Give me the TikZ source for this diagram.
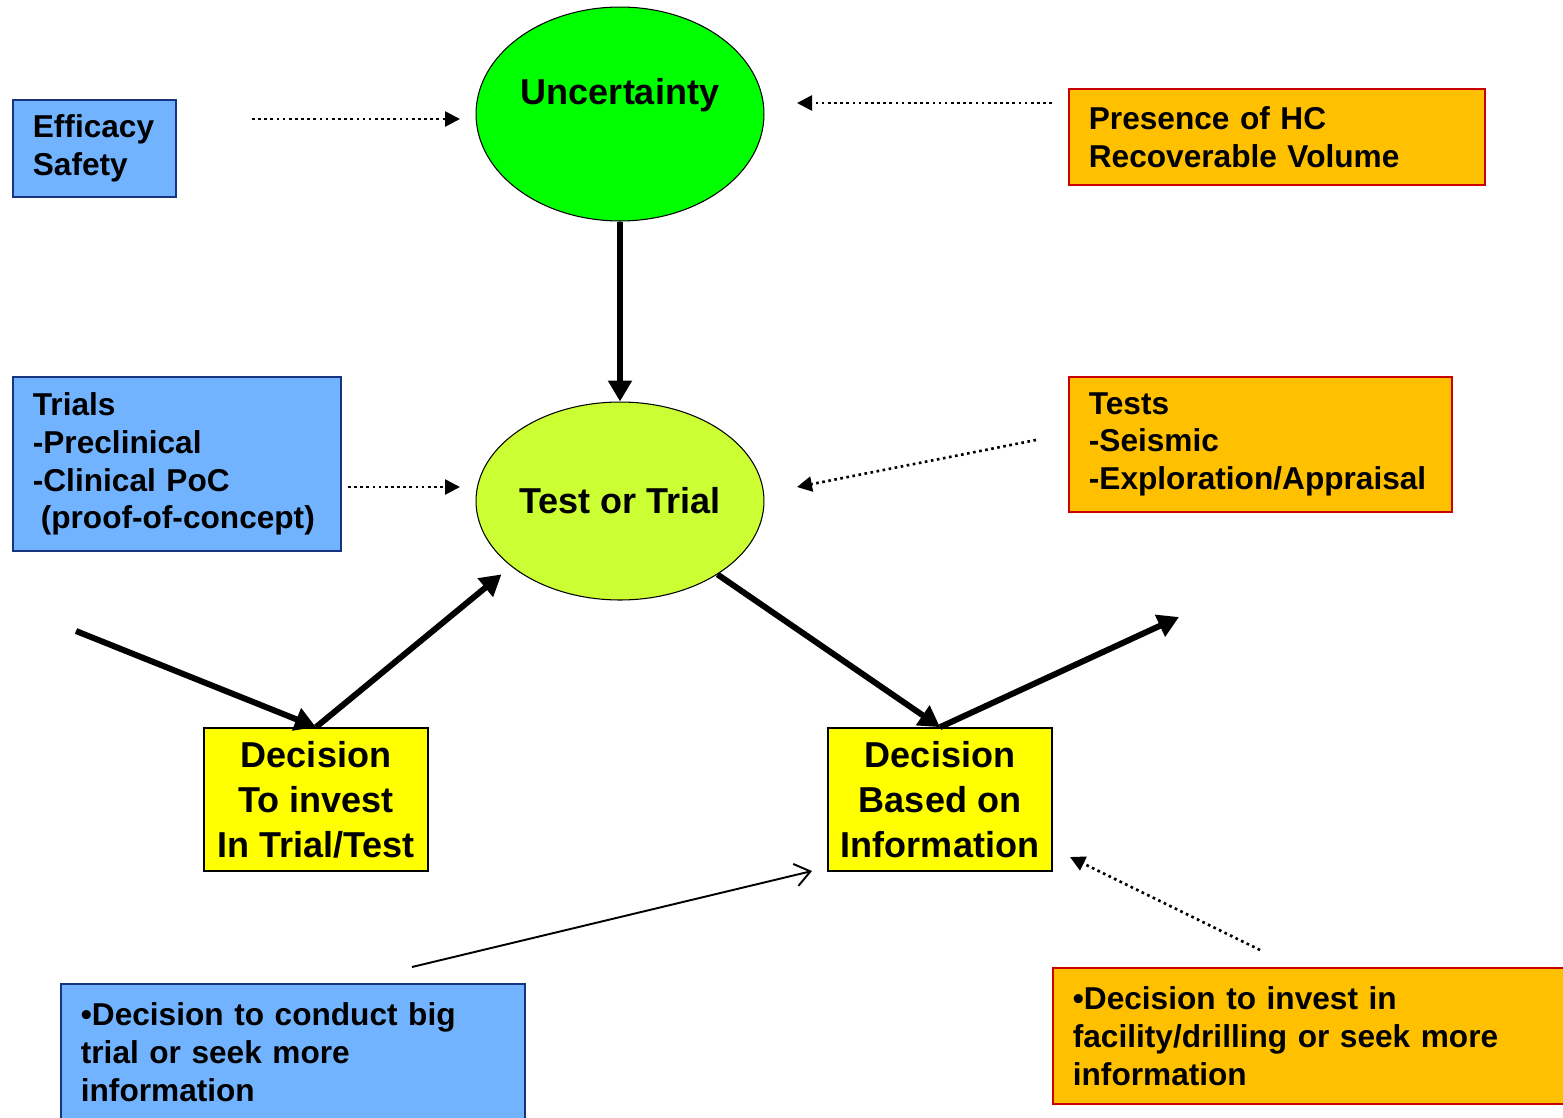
\documentclass[tikz,border=0pt]{standalone}
\usepackage{fontspec}
\setmainfont{Liberation Sans}
\usetikzlibrary{arrows.meta,shapes.geometric}
\definecolor{skyblue}{HTML}{72B3FF}
\definecolor{navyline}{HTML}{17357E}
\definecolor{amber}{HTML}{FFC000}
\definecolor{redline}{HTML}{CC0000}
\definecolor{brightgreen}{HTML}{00FF00}
\definecolor{limegreen}{HTML}{CCFF33}
\definecolor{lemon}{HTML}{FFFF00}

\begin{document}
\begin{tikzpicture}[x=0.02cm,y=-0.02cm,
  small/.style={font=\fontsize{18}{21.6}\selectfont\bfseries},
  big/.style={font=\fontsize{20.5}{25.5}\selectfont\bfseries},
  pharma/.style={small,draw=navyline,fill=skyblue,line width=1pt,align=left,inner xsep=0.4cm,inner ysep=0pt,anchor=north west},
  oil/.style={small,draw=redline,fill=amber,line width=1pt,align=left,inner xsep=0.4cm,inner ysep=0pt,anchor=north west},
  ell/.style={ellipse,draw,line width=0.6pt,inner sep=0pt,minimum width=5.76cm,big},
  dec/.style={big,draw,fill=lemon,line width=1pt,align=center,minimum width=4.48cm,minimum height=2.86cm},
  heavy/.style={-{Triangle[length=0.42cm,width=0.46cm]},line width=3.4pt},
  dots/.style={dotted,line width=1.5pt,-{Triangle[length=0.3cm,width=0.3cm]}},
  plain/.style={line width=1.1pt,-{Straight Barb[length=0.3cm,width=0.45cm]}}]
  \useasboundingbox (0,0) rectangle (1563,1117);
  \clip (0,0) rectangle (1563,1117);
  % ellipses
  \node[ell,fill=brightgreen,minimum height=4.28cm,
    label={[big,yshift=0.38cm]center:Uncertainty}] (unc) at (620,114) {};
  \node[ell,fill=limegreen,minimum height=3.96cm] (tot) at (620,501) {Test or Trial};
  % pharma side
  \node[pharma,text width=2.46cm,minimum height=1.94cm] (eff) at (12,99) {Efficacy\\Safety};
  \node[pharma,text width=5.76cm,minimum height=3.48cm] (trials) at (12,376)
    {Trials\\-Preclinical\\-Clinical PoC\\\hspace*{0.25em}(proof-of-concept)};
  \node[pharma,text width=8.48cm,minimum height=2.72cm] (bigtrial) at (60,983)
    {•Decision to conduct big\\trial or seek more\\information};
  % oil side
  \node[oil,text width=7.52cm,minimum height=1.92cm] (hc) at (1068,88) {Presence of HC\\Recoverable Volume};
  \node[oil,text width=6.86cm,minimum height=2.7cm] (tests) at (1068,376)
    {Tests\\-Seismic\\-Exploration/Appraisal};
  \node[oil,text width=10cm,minimum height=2.72cm] (drill) at (1052,967)
    {•Decision to invest in\\facility/drilling or seek more\\information};
  % decisions
  \node[dec] (dec1) at (316,799.5) {Decision\\To invest\\In Trial/Test};
  \node[dec] (dec2) at (940,799.5) {Decision\\Based on\\Information};
  % free ends
  \coordinate (inflow) at (76,631);
  \coordinate (outflow) at (1179,617);
  \coordinate (effsrc) at (252,119);  \coordinate (efftip) at (460,119);
  \coordinate (hcsrc) at (1052,103);  \coordinate (hctip) at (797,103);
  \coordinate (trsrc) at (348,487);   \coordinate (trtip) at (460,487);
  \coordinate (tssrc) at (1036,440);  \coordinate (tstip) at (797,487);
  \coordinate (drsrc) at (1260,950);  \coordinate (drtip) at (1070,857);
  \coordinate (bgsrc) at (412,967);   \coordinate (bgtip) at (812,871);
  % main flow
  \draw[heavy] (unc.south) -- (tot.north);
  \draw[heavy] (inflow) -- (dec1.north);
  \draw[heavy,shorten >=0.25cm] (dec1.north) -- (tot.211);
  \draw[heavy] (tot.323) -- (dec2.north);
  \draw[heavy] (dec2.north) -- (outflow);
  % inputs
  \draw[dots] (effsrc) -- (efftip);
  \draw[dots] (hcsrc) -- (hctip);
  \draw[dots] (trsrc) -- (trtip);
  \draw[dots] (tssrc) -- (tstip);
  \draw[dots] (drsrc) -- (drtip);
  \draw[plain] (bgsrc) -- (bgtip);
\end{tikzpicture}
\end{document}
